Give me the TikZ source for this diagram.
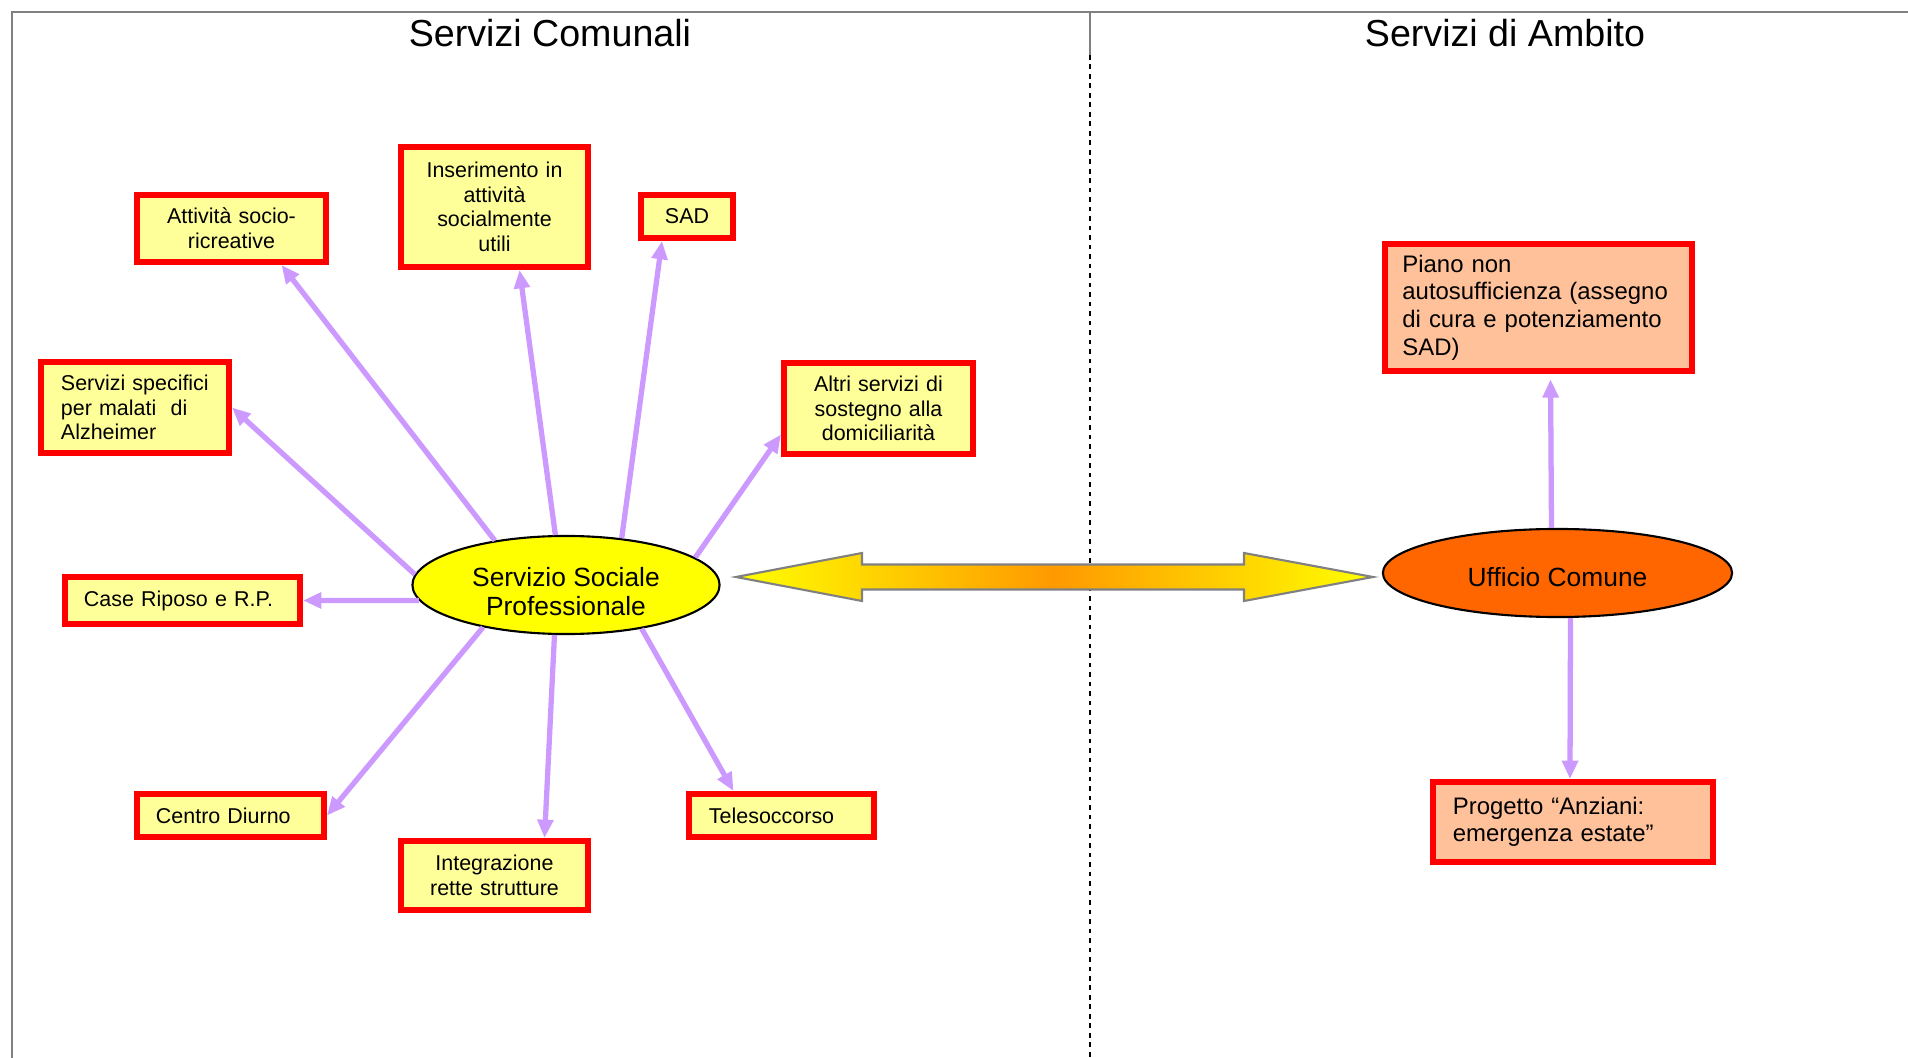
\documentclass[tikz,border=0pt]{standalone}
\usepackage{fontspec}
\setmainfont{Liberation Sans}
\usetikzlibrary{arrows.meta,shapes.geometric}

\definecolor{giallino}{HTML}{FFFF99}
\definecolor{pesca}{HTML}{FFC199}
\definecolor{lilla}{HTML}{CC99FF}
\definecolor{giallo}{HTML}{FFFF00}
\definecolor{arancio}{HTML}{FF6600}
\definecolor{arancioch}{HTML}{FF9900}
\definecolor{cornice}{HTML}{808080}

\tikzset{every picture/.style={line width=0.75pt}}
\tikzset{
  servbox/.style={draw=red, line width=1.7pt, fill=giallino, inner sep=0pt,
    font=\fontsize{6.1}{7}\selectfont},
  ambbox/.style={draw=red, line width=1.7pt, fill=pesca, inner sep=0pt,
    font=\fontsize{6.8}{7.85}\selectfont},
  ovale/.style={ellipse, draw=black, line width=0.6pt, inner sep=0pt, align=center,
    font=\fontsize{7.5}{8.3}\selectfont},
  titolo/.style={font=\fontsize{10.7}{12.8}\selectfont},
  freccia/.style={draw=lilla, line width=1.5pt, -{Triangle[length=5.2pt,width=4.4pt]}},
}

\begin{document}
\begin{tikzpicture}[x=0.01cm, y=-0.01cm]
  \useasboundingbox (0,0) rectangle (1908,1058);

  % Cornice e divisione
  \draw[cornice, line width=0.6pt] (12,1058) -- (12,12) -- (1908,12);
  \draw[cornice, line width=0.6pt] (1090,12) -- (1090,55);
  \draw[black, line width=0.65pt, dash pattern=on 1.3pt off 1.4pt] (1090,55) -- (1090,1058);

  % Titoli
  \node[titolo] (titcom) at (550,33) {Servizi Comunali};
  \node[titolo] (titamb) at (1505,33) {Servizi di Ambito};

  % Servizi comunali
  \node[ovale, fill=giallo, minimum width=3.07cm, minimum height=0.98cm] (ssp) at (566,585)
    {\rule{0pt}{9.4pt}Servizio Sociale\\Professionale};

  \node[servbox, minimum width=1.89cm, minimum height=0.67cm, text width=1.7cm, align=center]
    (attiv) at (231.5,228.5) {Attività socio-\\ricreative};
  \node[servbox, minimum width=1.87cm, minimum height=1.20cm, text width=1.7cm, align=center]
    (inser) at (494.5,207) {Inserimento in\\attività\\socialmente\\utili};
  \node[servbox, minimum width=0.92cm, minimum height=0.43cm, align=center]
    (sad) at (687,216.5) {SAD};
  \node[servbox, minimum width=1.88cm, minimum height=0.91cm, text width=1.48cm, align=left]
    (alzh) at (135,407.5) {Servizi specifici\\per malati~ di\\Alzheimer};
  \node[servbox, minimum width=1.89cm, minimum height=0.91cm, text width=1.7cm, align=center]
    (altri) at (878.5,408.5) {Altri servizi di\\sostegno alla\\domiciliarità};
  \node[servbox, minimum width=2.35cm, minimum height=0.47cm, text width=1.97cm, align=left]
    (case) at (182.5,600.5) {Case Riposo e R.P.};
  \node[servbox, minimum width=1.87cm, minimum height=0.43cm, text width=1.49cm, align=left]
    (centro) at (230.5,815.5) {Centro Diurno};
  \node[servbox, minimum width=1.87cm, minimum height=0.69cm, text width=1.7cm, align=center]
    (integr) at (494.5,875.5) {Integrazione\\rette strutture};
  \node[servbox, minimum width=1.85cm, minimum height=0.43cm, text width=1.45cm, align=left]
    (teles) at (781.5,815.5) {Telesoccorso};

  \draw[freccia] (ssp.148) -- ([xshift=0.5cm]attiv.south);
  \draw[freccia] (ssp.102) -- ([xshift=0.25cm]inser.south);
  \draw[freccia] (ssp.40) -- ([xshift=-0.25cm]sad.south);
  \draw[freccia] (ssp.176) -- (alzh.east);
  \draw[freccia] (ssp.12) -- ([yshift=-0.26cm]altri.west);
  \draw[freccia] (ssp.186) -- (case.east);
  \draw[freccia] (ssp.207) -- (centro.east);
  \draw[freccia] (ssp.257) -- ([xshift=0.5cm]integr.north);
  \draw[freccia] (ssp.330) -- ([xshift=-0.48cm]teles.north);

  % Servizi di ambito
  \node[ovale, fill=arancio, minimum width=3.49cm, minimum height=0.88cm] (uc) at (1557.5,573)
    {\rule{0pt}{7.8pt}Ufficio Comune};
  \node[ambbox, minimum width=3.07cm, minimum height=1.27cm, text width=2.72cm, align=left]
    (piano) at (1538.5,307.5) {Piano non\\autosufficienza (assegno\\di cura e potenziamento\\SAD)};
  \node[ambbox, minimum width=2.80cm, minimum height=0.80cm, text width=2.4cm, align=left]
    (progetto) at (1573,822) {Progetto “Anziani:\\emergenza estate”};

  \draw[freccia, shorten >=1.5pt] ([xshift=-0.06cm]uc.north) -- ([xshift=0.12cm]piano.south);
  \draw[freccia] ([xshift=0.13cm]uc.south) -- ([xshift=-0.03cm]progetto.north);

  % Freccia doppia tra i due ambiti
  \shadedraw[draw=cornice, line width=0.6pt, left color=giallo, right color=giallo,
    middle color=arancioch]
    (736,577) -- (862,553) -- (862,564.5) -- (1244,564.5) -- (1244,553) -- (1373,577)
    -- (1244,601) -- (1244,589.5) -- (862,589.5) -- (862,601) -- cycle;
\end{tikzpicture}
\end{document}
